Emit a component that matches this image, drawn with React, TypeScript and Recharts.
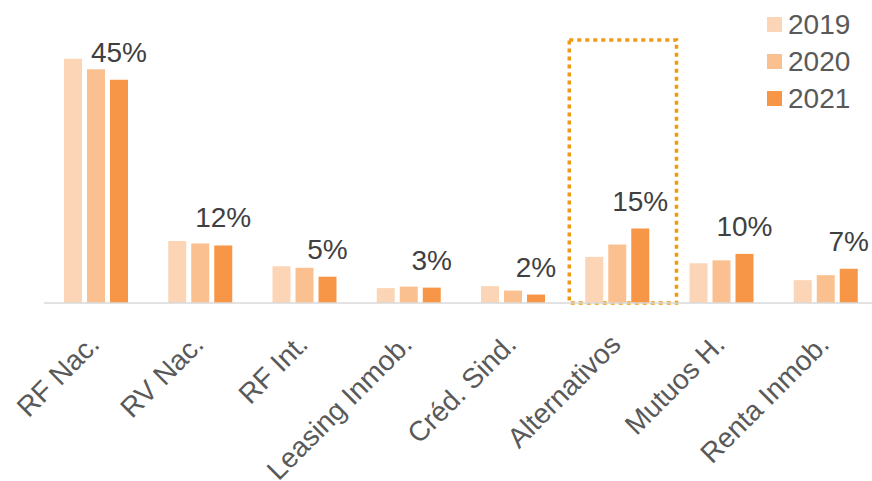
import React from "react";
import {
  BarChart,
  Bar,
  XAxis,
  YAxis,
  LabelList,
  ReferenceArea,
} from "recharts";

const categories = [
  "RF Nac.",
  "RV Nac.",
  "RF Int.",
  "Leasing Inmob.",
  "Créd. Sind.",
  "Alternativos",
  "Mutuos H.",
  "Renta Inmob.",
];
const years = ["2019", "2020", "2021"];
const values2019 = [49.2, 12.5, 7.4, 3.0, 3.4, 9.3, 8.0, 4.6];
const values2020 = [47.1, 12.0, 7.1, 3.3, 2.5, 11.8, 8.6, 5.6];
const values2021 = [45.0, 11.6, 5.3, 3.1, 1.7, 15.0, 9.9, 6.9];
const highlighted = "Alternativos";

const colors = ["#FBD5B5", "#FAC08F", "#F79646"];
const font = "'Liberation Sans', Arial, sans-serif";

const data = categories.map((name, i) => ({
  name,
  y2019: values2019[i],
  y2020: values2020[i],
  y2021: values2021[i],
}));

const AxisTick = ({ x, y, payload }: any) => {
  const tx = x + 5;
  const ty = y + 43;
  return (
    <text
      x={tx}
      y={ty}
      textAnchor="end"
      fill="#595959"
      fontSize={28}
      fontFamily={font}
      transform={`rotate(-45, ${tx}, ${ty})`}
    >
      {payload.value}
    </text>
  );
};

const TopLabel = ({ x, y, width, value }: any) => (
  <text
    x={x + width / 2}
    y={y - 18}
    textAnchor="middle"
    fill="#404040"
    fontSize={28}
    fontFamily={font}
  >
    {Math.round(value) + "%"}
  </text>
);

// legend drawn next to the chart so it doesn't eat plot space
const LegendBox = () => (
  <div
    style={{ position: "absolute", top: 6, left: 767, fontFamily: font }}
  >
    {years.map((yr, i) => (
      <div
        key={yr}
        style={{ display: "flex", alignItems: "center", height: 37 }}
      >
        <div
          style={{ width: 15, height: 15, background: colors[i], marginRight: 6 }}
        />
        <span style={{ fontSize: 28, color: "#595959", lineHeight: "37px" }}>
          {yr}
        </span>
      </div>
    ))}
  </div>
);

const DottedBox = ({ x, y, width, height }: any) => (
  <rect
    x={x + 4}
    y={y}
    width={width + 3}
    height={height}
    fill="none"
    stroke="#ED9A12"
    strokeWidth={3.5}
    strokeDasharray="4 4"
  />
);

export default function App() {
  return (
    <div
      style={{
        position: "absolute",
        left: 0,
        top: 0,
        width: 872,
        height: 481,
        overflow: "hidden",
        background: "#fff",
      }}
    >
      <BarChart
        width={878}
        height={481}
        data={data}
        margin={{ top: 30, right: 0, left: 44, bottom: 0 }}
        barGap={5}
        barSize={18}
      >
        <XAxis
          dataKey="name"
          height={178}
          interval={0}
          tickLine={false}
          tickSize={0}
          tickMargin={0}
          axisLine={{ stroke: "#D9D9D9", strokeWidth: 1.5 }}
          tick={<AxisTick />}
        />
        <YAxis hide domain={[0, 55]} />
        <ReferenceArea
          x1={highlighted}
          x2={highlighted}
          y1={0}
          y2={53}
          shape={<DottedBox />}
          ifOverflow="visible"
        />
        <Bar dataKey="y2019" name="2019" fill={colors[0]} isAnimationActive={false} />
        <Bar dataKey="y2020" name="2020" fill={colors[1]} isAnimationActive={false} />
        <Bar dataKey="y2021" name="2021" fill={colors[2]} isAnimationActive={false}>
          <LabelList dataKey="y2021" content={<TopLabel />} />
        </Bar>
      </BarChart>
      <LegendBox />
    </div>
  );
}
